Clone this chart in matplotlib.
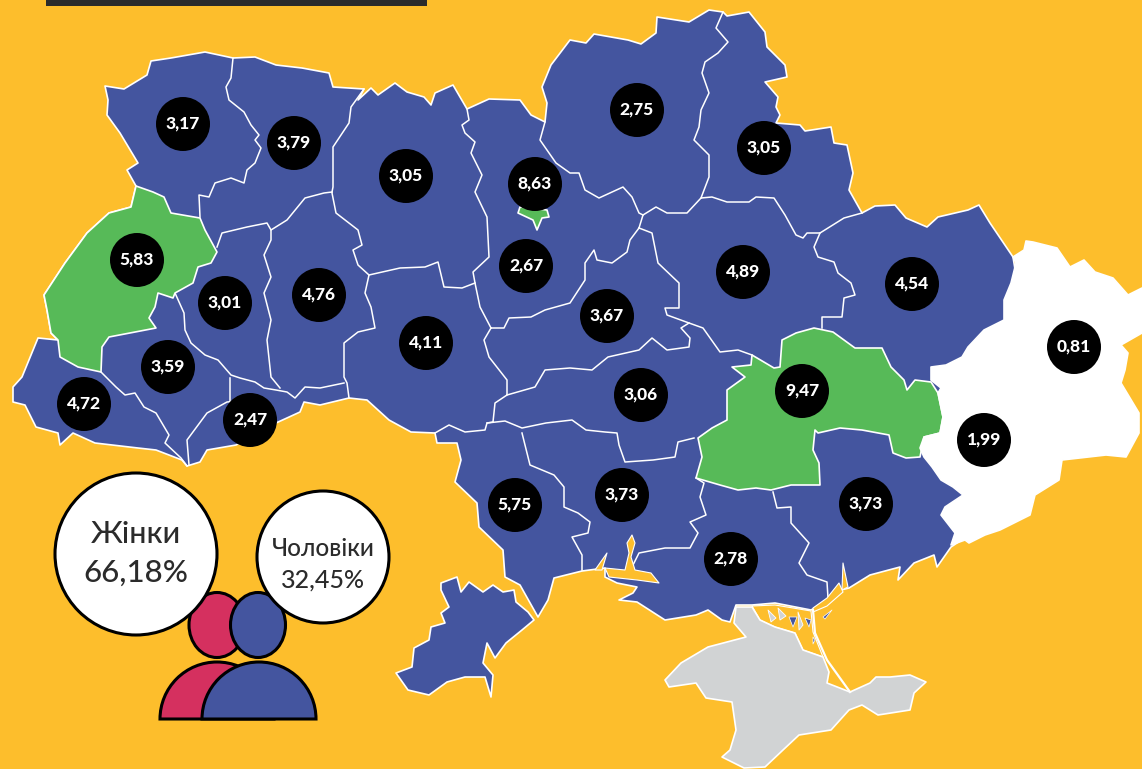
import matplotlib
matplotlib.use("Agg")
import matplotlib.pyplot as plt
from matplotlib.patches import Polygon, Circle, Ellipse, Wedge, Rectangle

plt.rcParams['font.family'] = ['Lato', 'DejaVu Sans']

YELLOW = '#FDBE2C'
BLUE = '#44559F'
GREEN = '#57BA58'
GREY = '#D1D3D4'
PINK = '#D5305F'
INK = '#2B2B2B'

# values per oblast
region_names = ['Volyn', 'Rivne', 'Zhytomyr', 'Kyiv', 'Chernihiv', 'Sumy', 'Lviv', 'Ternopil', 'Khmelnytskyi',
                'Kyiv city', 'Cherkasy', 'Poltava', 'Kharkiv', 'Luhansk', 'Vinnytsia', 'Ivano-Frankivsk',
                'Zakarpattia', 'Chernivtsi', 'Kirovohrad', 'Dnipro', 'Donetsk', 'Odesa', 'Mykolaiv',
                'Zaporizhzhia', 'Kherson']
region_values = [3.17, 3.79, 3.05, 2.67, 2.75, 3.05, 5.83, 3.01, 4.76,
                 8.63, 3.67, 4.89, 4.54, 0.81, 4.11, 3.59,
                 4.72, 2.47, 3.06, 9.47, 1.99, 5.75, 3.73,
                 3.73, 2.78]
label_x = [183, 294, 406, 526, 637, 764, 137, 225, 319,
           535, 607, 743, 912, 1074, 426, 168,
           84, 250, 641, 802, 984, 515, 622,
           866, 731]
label_y = [124, 143, 176, 266, 110, 148, 260, 303, 295,
           184, 316, 272, 284, 347, 343, 367,
           404, 420, 395, 391, 440, 505, 495,
           504, 559]

women_label = 'Жінки'
women_share = '66,18%'
men_label = 'Чоловіки'
men_share = '32,45%'

# map outlines, traced in picture pixels
mainland = [(105, 86), (124, 89), (147, 75), (151, 61), (171, 58), (205, 52), (233, 58), (255, 57), (276, 65),
            (302, 68), (329, 73), (333, 87), (364, 89), (358, 100), (371, 88), (378, 95), (395, 83), (407, 92),
            (424, 97), (431, 105), (435, 93), (453, 85), (467, 109), (489, 99), (520, 100), (531, 115), (545, 122),
            (547, 103), (542, 87), (551, 65), (570, 40), (586, 43), (594, 34), (628, 40), (641, 44), (656, 33),
            (657, 17), (689, 22), (709, 10), (723, 12), (727, 16), (749, 12), (765, 32), (767, 47), (785, 65),
            (787, 77), (765, 82), (778, 97), (776, 107), (780, 115), (776, 123), (800, 125), (805, 131), (831, 127),
            (834, 143), (847, 145), (853, 173), (849, 190), (862, 213), (875, 206), (895, 205), (906, 218),
            (927, 227), (938, 217), (968, 210), (979, 205), (990, 223), (1013, 257), (1020, 300), (990, 440),
            (975, 525), (960, 541), (951, 547), (937, 567), (934, 555), (914, 563), (898, 580), (900, 567), (870, 575), (849, 588),
            (841, 590), (829, 600), (811, 610), (775, 603), (752, 605), (736, 605), (730, 622), (722, 620),
            (708, 610), (696, 615), (665, 620), (637, 602), (619, 600), (633, 593), (637, 587), (617, 583),
            (605, 577), (605, 568), (582, 571), (554, 578), (548, 600), (538, 617), (520, 585), (505, 577),
            (503, 550), (479, 527), (477, 503), (455, 482), (461, 460), (457, 443), (437, 443), (435, 433),
            (411, 432), (389, 420), (367, 400), (349, 398), (320, 405), (304, 402), (300, 412), (276, 423),
            (236, 445), (207, 450), (200, 462), (187, 466), (182, 460), (156, 450), (138, 448), (95, 443),
            (73, 433), (60, 445), (58, 433), (36, 427), (25, 405), (13, 402), (13, 387), (22, 377), (38, 338),
            (58, 340), (51, 333), (47, 310), (44, 295), (65, 263), (87, 233), (109, 213), (131, 207), (136, 186),
            (127, 170), (138, 163), (120, 133), (107, 115), (108, 100)]

bessarabia = [(441, 583), (457, 577), (461, 592), (469, 582), (483, 592), (493, 585), (503, 592), (514, 590),
              (516, 602), (528, 612), (534, 620), (522, 630), (506, 643), (495, 658), (487, 643), (483, 663),
              (493, 675), (491, 697), (485, 677), (465, 677), (447, 682), (429, 695), (408, 690), (396, 673),
              (412, 667), (414, 648), (429, 640), (431, 627), (445, 623), (441, 613), (449, 607), (441, 590)]

lviv = [(136, 186), (153, 192), (164, 197), (171, 213), (200, 218), (205, 230), (217, 252), (211, 263), (198, 267),
        (193, 283), (175, 293), (173, 298), (158, 293), (155, 307), (149, 318), (156, 328), (109, 337), (102, 347),
        (101, 372), (78, 367), (60, 357), (58, 340), (51, 333), (47, 310), (44, 295), (65, 263), (87, 233),
        (109, 213), (131, 207)]

dnipro = [(782, 340), (796, 333), (814, 328), (833, 332), (855, 348), (882, 348), (891, 367), (904, 380), (907, 390),
          (915, 380), (931, 382), (938, 393), (943, 417), (940, 433), (924, 437), (920, 457), (906, 458), (893, 453),
          (889, 435), (862, 430), (840, 428), (818, 433), (815, 430), (813, 450), (819, 463), (820, 485), (791, 485),
          (771, 490), (756, 488), (738, 490), (720, 485), (696, 478), (702, 457), (698, 438), (712, 428), (727, 420),
          (727, 390), (745, 377), (732, 367), (751, 365), (752, 355), (774, 368), (780, 367)]

kyiv_city = [(520, 207), (518, 213), (533, 220), (537, 230), (542, 218), (549, 217), (547, 210)]

east = [(1013, 257), (1024, 250), (1026, 241), (1033, 242), (1057, 248), (1070, 267), (1084, 260), (1095, 272),
        (1113, 278), (1128, 295), (1142, 288), (1142, 333), (1121, 345), (1128, 353), (1125, 370), (1121, 383),
        (1139, 413), (1139, 433), (1126, 457), (1106, 455), (1062, 460), (1059, 480), (1035, 495), (1030, 515),
        (1000, 530), (985, 535), (969, 543), (965, 540), (951, 545), (955, 533), (941, 515), (945, 507), (963, 495),
        (953, 487), (941, 480), (932, 467), (924, 457), (920, 448), (924, 437), (940, 433), (943, 417), (938, 393),
        (941, 388), (931, 380), (931, 367), (946, 365), (962, 357), (968, 347), (984, 330), (1004, 320), (1004, 300),
        (1011, 283), (1016, 263)]

crimea = [(736, 607), (734, 623), (746, 637), (708, 647), (681, 663), (665, 680), (669, 687), (696, 683), (706, 698),
          (732, 702), (736, 730), (730, 750), (722, 757), (744, 768), (765, 767), (783, 750), (799, 735), (831, 730),
          (849, 710), (862, 705), (878, 715), (910, 710), (914, 693), (926, 682), (910, 675), (890, 677), (876, 677),
          (870, 683), (850, 692), (827, 683), (829, 672), (823, 657), (803, 650), (795, 633), (775, 627), (760, 620),
          (752, 607)]

dnipro_liman = [(605, 568), (625, 570), (629, 553), (627, 543), (632, 535), (635, 543), (631, 557), (635, 570),
                (651, 573), (659, 583), (637, 580), (609, 577)]
bug_liman = [(607, 553), (602, 570), (595, 570)]
molochnyi = [(843, 563), (848, 587), (842, 590)]
utliuk = [(839, 583), (843, 592), (827, 606), (813, 612), (813, 608), (827, 598)]
sivash_water = [(752, 606), (775, 605), (811, 611), (813, 632), (823, 657), (803, 650), (795, 633), (775, 627), (760, 620)]
grey_islets = [[(768, 610), (776, 618), (771, 622)], [(778, 608), (786, 616), (780, 620)], [(798, 612), (803, 625), (799, 630)]]
blue_islets = [[(789, 617), (797, 617), (793, 627)], [(805, 618), (811, 620), (809, 627)], [(813, 637), (815, 640), (813, 644)],
               [(823, 617), (832, 610), (825, 619)]]

# inner oblast borders
borders = [
    [(233, 58), (231, 78), (226, 87), (229, 100), (244, 112), (251, 125), (259, 135), (255, 140), (261, 148), (255, 163),
     (247, 170), (244, 183), (231, 178), (215, 183), (209, 197), (199, 195), (200, 217)],
    [(217, 247), (222, 233), (247, 227), (267, 223), (271, 230), (287, 220), (305, 198), (324, 193), (332, 192)],
    [(364, 89), (351, 107), (349, 123), (333, 147), (333, 187), (332, 192)],
    [(332, 193), (336, 213), (358, 230), (362, 245), (353, 250), (358, 265), (369, 275), (365, 293), (371, 307),
     (375, 328), (358, 332), (344, 343), (344, 377), (347, 383), (349, 398)],
    [(369, 275), (400, 268), (425, 267), (438, 262), (444, 287), (462, 288), (475, 283)],
    [(467, 109), (469, 120), (462, 125), (465, 133), (475, 142), (471, 153), (482, 175), (475, 192), (487, 217),
     (489, 257), (473, 272), (475, 283), (480, 307), (491, 328)],
    [(491, 328), (504, 328), (509, 318), (531, 317), (545, 310), (570, 303), (585, 280), (585, 263), (594, 250),
     (597, 260), (612, 263), (627, 252), (630, 240), (639, 228)],
    [(491, 328), (484, 340), (489, 357), (507, 380), (507, 395), (495, 403), (493, 422)],
    [(507, 395), (535, 387), (545, 370), (570, 368), (592, 370), (608, 357), (639, 350), (652, 338), (667, 350),
     (689, 347), (690, 338), (681, 328), (689, 323)],
    [(639, 228), (652, 233), (658, 263), (679, 283), (679, 308), (665, 308), (667, 315), (689, 323), (703, 328),
     (720, 352), (738, 350), (752, 355)],
    [(822, 328), (822, 317), (842, 317), (844, 298), (855, 295), (851, 283), (838, 273), (834, 262), (818, 257),
     (814, 247), (820, 233)],
    [(639, 228), (643, 215), (656, 207), (667, 213), (687, 213), (701, 198), (712, 197), (727, 202), (749, 202),
     (756, 197), (774, 198), (785, 215), (796, 235), (803, 238), (807, 233), (820, 233), (844, 218), (862, 213)],
    [(723, 12), (716, 28), (728, 42), (718, 53), (705, 62), (702, 73), (709, 93), (701, 110), (699, 127), (694, 140),
     (709, 155), (709, 177), (701, 198)],
    [(545, 122), (540, 140), (556, 163), (570, 173), (579, 173), (585, 190), (599, 198), (623, 187), (632, 197),
     (639, 213), (643, 215)],
    [(435, 433), (449, 425), (465, 432), (485, 430), (487, 423), (505, 421), (522, 428), (546, 423), (572, 420),
     (586, 430), (605, 432), (617, 433), (619, 445), (625, 462), (653, 460), (675, 457), (678, 442), (694, 438)],
    [(487, 423), (493, 422)],
    [(522, 433), (530, 465), (554, 475), (564, 487), (564, 507), (578, 513), (590, 522), (588, 533), (572, 537),
     (582, 555), (582, 570)],
    [(696, 478), (704, 483), (700, 497), (706, 515), (690, 522), (698, 533), (690, 548), (665, 548), (639, 553), (633, 565)],
    [(773, 492), (777, 508), (791, 507), (791, 523), (809, 543), (799, 563), (807, 575), (827, 582), (828, 598)],
    [(101, 372), (116, 387), (125, 395), (135, 393), (144, 407), (156, 413), (169, 435), (165, 443), (181, 458), (187, 466)],
    [(189, 465), (187, 440), (207, 413), (227, 402), (250, 400)],
    [(230, 402), (230, 378)],
    [(175, 293), (184, 313), (185, 330), (191, 343), (205, 355), (218, 360), (231, 375), (240, 378), (255, 382), (264, 388),
     (276, 390), (287, 392), (295, 398), (305, 387), (320, 388), (344, 383)],
    [(271, 230), (271, 240), (264, 255), (271, 277), (264, 293), (271, 320), (267, 340), (271, 377), (280, 388)],
]
arabat_spit = [(813, 610), (815, 633), (827, 660), (850, 692)]


def add_poly(ax, pts, color, edge='white', lw=1.2, z=2):
    ax.add_patch(Polygon(pts, closed=True, facecolor=color, edgecolor=edge, linewidth=lw, joinstyle='round', zorder=z))


fig = plt.figure(figsize=(11.42, 7.69), dpi=100, facecolor=YELLOW)
ax = fig.add_axes([0, 0, 1, 1])
ax.set_xlim(0, 1142)
ax.set_ylim(769, 0)
ax.axis('off')

# title bar cut by the crop
ax.add_patch(Rectangle((46, -5), 381, 11, facecolor=INK, edgecolor='none', zorder=1))

add_poly(ax, mainland, BLUE)
add_poly(ax, bessarabia, BLUE)
for b in borders:
    ax.plot([p[0] for p in b], [p[1] for p in b], color='white', lw=1.1, solid_joinstyle='round', zorder=3)

add_poly(ax, lviv, GREEN, z=4)
add_poly(ax, dnipro, GREEN, z=4)
add_poly(ax, kyiv_city, GREEN, z=4)
add_poly(ax, east, 'white', z=5)

for water in [dnipro_liman, bug_liman, molochnyi, utliuk, sivash_water]:
    add_poly(ax, water, YELLOW, lw=0.8, z=5)
add_poly(ax, crimea, GREY, z=6)
for islet in grey_islets:
    add_poly(ax, islet, GREY, lw=0.6, z=6)
for islet in blue_islets:
    add_poly(ax, islet, BLUE, lw=0.5, z=6)
ax.plot([p[0] for p in arabat_spit], [p[1] for p in arabat_spit], color='white', lw=1.6, zorder=7)

# value badges
for x, y, v in zip(label_x, label_y, region_values):
    ax.add_patch(Circle((x, y), 27, facecolor='black', edgecolor='none', zorder=8))
    ax.text(x, y - 1, f'{v:.2f}'.replace('.', ','), color='white', fontsize=12.5, fontweight='black',
            ha='center', va='center', zorder=9)

# people icon
line_w = 2.2
ax.add_patch(Wedge((217, 719), 57, 180, 360, facecolor=PINK, edgecolor='black', linewidth=line_w, zorder=10))
ax.add_patch(Ellipse((217, 625), 56, 65, facecolor=PINK, edgecolor='black', linewidth=line_w, zorder=10))
ax.add_patch(Wedge((259, 719), 57, 180, 360, facecolor=BLUE, edgecolor='black', linewidth=line_w, zorder=11))
ax.add_patch(Ellipse((258, 625), 55, 65, facecolor=BLUE, edgecolor='black', linewidth=line_w, zorder=11))

ax.add_patch(Circle((136, 554), 81, facecolor='white', edgecolor='black', linewidth=line_w, zorder=12))
ax.add_patch(Circle((323, 557), 66, facecolor='white', edgecolor='black', linewidth=line_w, zorder=12))

ax.text(136, 534, women_label, color=INK, fontsize=22, fontweight='medium', ha='center', va='center', zorder=13)
ax.text(136, 573, women_share, color=INK, fontsize=22.5, fontweight='medium', ha='center', va='center', zorder=13)
ax.text(323, 549, men_label, color=INK, fontsize=17.5, fontweight='medium', ha='center', va='center', zorder=13)
ax.text(323, 580, men_share, color=INK, fontsize=18, fontweight='medium', ha='center', va='center', zorder=13)

fig.savefig('out.png', dpi=100, facecolor=YELLOW)
